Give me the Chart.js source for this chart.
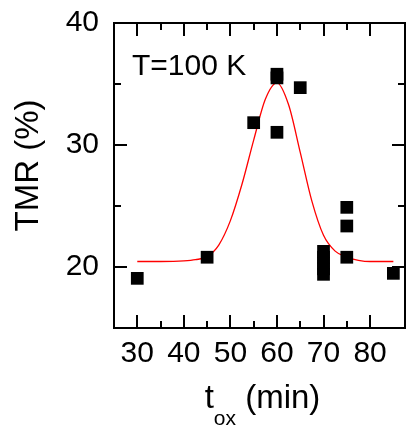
<!DOCTYPE html>
<html>
<head>
<meta charset="utf-8">
<script src="https://cdn.jsdelivr.net/npm/chart.js@4"></script>
<style>
  html, body { margin: 0; padding: 0; background: #fff; }
  #wrap { width: 414px; height: 428px; position: relative; }
</style>
</head>
<body>
<div id="wrap"><canvas id="tmrChart"></canvas></div>
<script>
/* ---------- DATA ---------- */

// measured points: oxidation time (min) vs TMR (%)
const toxMin = [30, 45, 55, 60, 60, 60, 65, 70, 70, 70, 70, 70, 75, 75, 75, 85];
const tmrPct = [19.07, 20.8, 31.83, 35.8, 35.5, 31.04, 34.7, 21.28, 20.8, 20.3, 19.85, 19.4, 24.89, 23.36, 20.8, 19.48];

// red fit curve
const fitX = [30, 35, 40, 42.5, 45, 47.5, 50, 52.5, 55, 57.5, 60, 62.5, 65, 67.5, 70, 72.5, 75, 77.5, 80, 85];
const fitY = [20.45, 20.45, 20.5, 20.6, 20.85, 21.8, 23.8, 26.8, 30.4, 33.75, 35.1, 33.3, 29.4, 25.4, 22.6, 21.3, 20.8, 20.55, 20.45, 20.45];

const xMajor = [30, 40, 50, 60, 70, 80];
const yMajor = [20, 30, 40];

const annotation = "T=100 K";
const yTitle = "TMR (%)";

/* ---------- HELPERS ---------- */

const FONT = "'Liberation Sans', Arial, sans-serif";

function toPoints(xs, ys) {
  return xs.map((x, i) => ({ x, y: ys[i] }));
}

// inward ticks on all four sides + frame + titles
const framePlugin = {
  id: "frame",
  afterDraw(chart) {
    const { ctx, chartArea: a, scales } = chart;
    ctx.save();
    ctx.strokeStyle = "#000";
    ctx.lineWidth = 2;
    ctx.strokeRect(a.left, a.top, a.right - a.left, a.bottom - a.top);

    ctx.beginPath();
    scales.x.ticks.forEach(t => {
      if (t.value <= scales.x.min || t.value >= scales.x.max) return;
      const px = Math.round(scales.x.getPixelForValue(t.value));
      const len = xMajor.includes(t.value) ? 13 : 7;
      ctx.moveTo(px, a.bottom); ctx.lineTo(px, a.bottom - len);
      ctx.moveTo(px, a.top); ctx.lineTo(px, a.top + len);
    });
    scales.y.ticks.forEach(t => {
      if (t.value <= scales.y.min || t.value >= scales.y.max) return;
      const py = Math.round(scales.y.getPixelForValue(t.value));
      const len = yMajor.includes(t.value) ? 13 : 7;
      ctx.moveTo(a.left, py); ctx.lineTo(a.left + len, py);
      ctx.moveTo(a.right, py); ctx.lineTo(a.right - len, py);
    });
    ctx.stroke();

    ctx.fillStyle = "#000";
    ctx.textBaseline = "alphabetic";

    // annotation
    ctx.font = "30px " + FONT;
    ctx.textAlign = "left";
    ctx.fillText(annotation, a.left + 18, a.top + 52);

    // x title with subscript
    const big = "33px " + FONT, small = "21px " + FONT;
    ctx.font = big;
    const wT = ctx.measureText("t").width;
    const wRest = ctx.measureText(" (min)").width;
    ctx.font = small;
    const wSub = ctx.measureText("ox").width;
    let x0 = (a.left + a.right) / 2 - (wT + wSub + wRest) / 2 + 3;
    const base = a.bottom + 80;
    ctx.font = big;
    ctx.fillText("t", x0, base);
    ctx.font = small;
    ctx.fillText("ox", x0 + wT, base + 17);
    ctx.font = big;
    ctx.fillText(" (min)", x0 + wT + wSub, base);

    // y title
    ctx.translate(29, (a.top + a.bottom) / 2 - 10);
    ctx.rotate(-Math.PI / 2);
    ctx.textAlign = "center";
    ctx.textBaseline = "middle";
    ctx.font = big;
    ctx.fillText(yTitle, 0, 0);
    ctx.restore();
  }
};

/* ---------- CHART ---------- */

const tickFont = { family: FONT, size: 30 };

new Chart(document.getElementById("tmrChart"), {
  type: "scatter",
  data: {
    datasets: [
      {
        data: toPoints(toxMin, tmrPct),
        pointStyle: "rect",
        pointRadius: 9,
        backgroundColor: "#000",
        borderWidth: 0
      },
      {
        data: toPoints(fitX, fitY),
        showLine: true,
        borderColor: "#ff0000",
        borderWidth: 1.3,
        pointRadius: 0,
        cubicInterpolationMode: "monotone"
      }
    ]
  },
  options: {
    responsive: true,
    maintainAspectRatio: false,
    animation: false,
    layout: { padding: { top: 23, right: 1, left: 0, bottom: 0 } },
    plugins: {
      legend: { display: false },
      tooltip: { enabled: false }
    },
    scales: {
      x: {
        type: "linear",
        min: 25,
        max: 87.5,
        grid: { display: false, drawTicks: false },
        border: { display: false },
        ticks: {
          stepSize: 5,
          autoSkip: false,
          maxRotation: 0,
          padding: 8,
          color: "#000",
          font: tickFont,
          callback: v => (xMajor.includes(v) ? String(v) : "")
        },
        afterFit: s => { s.height = 100; s.paddingLeft = 0; s.paddingRight = 0; }
      },
      y: {
        min: 15,
        max: 40,
        grid: { display: false, drawTicks: false },
        border: { display: false },
        ticks: {
          stepSize: 5,
          autoSkip: false,
          padding: 15,
          color: "#000",
          font: tickFont,
          callback: v => (yMajor.includes(v) ? String(v) : "")
        },
        afterFit: s => { s.width = 114; s.paddingTop = 0; s.paddingBottom = 0; }
      }
    }
  },
  plugins: [framePlugin]
});
</script>
</body>
</html>
